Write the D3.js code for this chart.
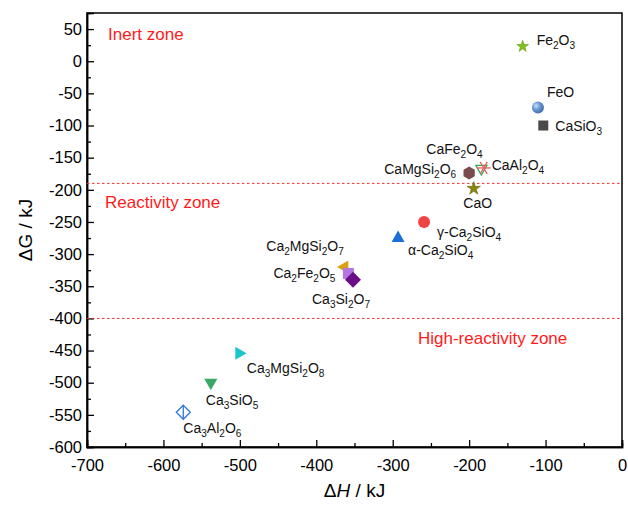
<!DOCTYPE html>
<html>
<head>
<meta charset="utf-8">
<script src="https://cdn.jsdelivr.net/npm/d3@7"></script>
<style>
  html, body { margin: 0; padding: 0; background: #fff; }
  text { font-family: "Liberation Sans", Arial, sans-serif; }
</style>
</head>
<body>
<svg id="chart" width="628" height="509"></svg>
<script>
// Compounds: name (with _n subscripts), ΔH (kJ), ΔG (kJ)
const names = ["Fe_2O_3", "FeO", "CaSiO_3", "CaFe_2O_4", "CaAl_2O_4", "CaMgSi_2O_6", "CaO",
  "γ-Ca_2SiO_4", "α-Ca_2SiO_4", "Ca_2MgSi_2O_7", "Ca_2Fe_2O_5", "Ca_3Si_2O_7",
  "Ca_3MgSi_2O_8", "Ca_3SiO_5", "Ca_3Al_2O_6"];
const dH = [-130, -110, -103, -184, -181, -200, -194, -259, -293, -364, -358, -352, -500, -538, -574];
const dG = [23, -72, -100, -168, -166, -174, -198, -250, -274, -320, -330, -340, -454, -501, -546];

// Zone boundaries and captions
const boundaries = [-190, -400];
const zoneNames = ["Inert zone", "Reactivity zone", "High-reactivity zone"];

const xTicks = [-700, -600, -500, -400, -300, -200, -100, 0];
const yTicks = [50, 0, -50, -100, -150, -200, -250, -300, -350, -400, -450, -500, -550, -600];

// Marker style per compound
const markerStyle = [
  { shape: "star", fill: "#7cc31a", stroke: "#5f9a10", size: 42 },
  { shape: "sphere", fill: "#5b8fd2", size: 6 },
  { shape: "square", fill: "#4a4a4a", size: 10 },
  { shape: "triDownOpen", stroke: "#2ea85a", size: 11 },
  { shape: "asterisk", stroke: "#f05a5a", size: 7 },
  { shape: "hexagon", fill: "#7a4d4d", size: 6.5 },
  { shape: "star", fill: "#8a8612", stroke: "#6e6a0c", size: 55 },
  { shape: "circle", fill: "#f04343", size: 6 },
  { shape: "triUp", fill: "#1d6fd8", size: 13 },
  { shape: "triLeft", fill: "#d9a10e", size: 13 },
  { shape: "square", fill: "#b476e0", size: 11 },
  { shape: "diamond", fill: "#6b0d86", size: 8 },
  { shape: "triRight", fill: "#1cc6cc", size: 13 },
  { shape: "triDown", fill: "#37a866", size: 13 },
  { shape: "diamondOpen", stroke: "#2f78e0", size: 7 }
];

// Label placement relative to each marker (px) and anchor
const labelPos = [
  { dx: 14, dy: -1, a: "start" }, { dx: 9, dy: -11, a: "start" }, { dx: 12, dy: 5, a: "start" },
  { dx: -55, dy: -15, a: "start" }, { dx: 8, dy: 2, a: "start" }, { dx: -13, dy: 1, a: "end" },
  { dx: 4, dy: 19, a: "middle" }, { dx: 13, dy: 15, a: "start" }, { dx: 10, dy: 18, a: "start" },
  { dx: 0, dy: -16, a: "end" }, { dx: -13, dy: 5, a: "end" }, { dx: -41, dy: 24, a: "start" },
  { dx: 7, dy: 20, a: "start" }, { dx: -5, dy: 22, a: "start" }, { dx: 0, dy: 21, a: "start" }
];

const svg = d3.select("#chart");
const margin = { left: 87, right: 6, top: 13, bottom: 62 };
const W = 628, H = 509;
const iw = W - margin.left - margin.right, ih = H - margin.top - margin.bottom;

const x = d3.scaleLinear().domain([-700, 0]).range([0, iw]);
const y = d3.scaleLinear().domain([-600, 75]).range([ih, 0]);

const defs = svg.append("defs");
const grad = defs.append("radialGradient").attr("id", "sphere")
  .attr("cx", "35%").attr("cy", "35%").attr("r", "70%");
grad.append("stop").attr("offset", "0%").attr("stop-color", "#cfe0f5");
grad.append("stop").attr("offset", "45%").attr("stop-color", "#6d9bd6");
grad.append("stop").attr("offset", "100%").attr("stop-color", "#3d6aa8");

const g = svg.append("g").attr("transform", `translate(${margin.left},${margin.top})`);

// Frame
g.append("rect").attr("x", 0).attr("y", 0).attr("width", iw).attr("height", ih)
  .attr("fill", "none").attr("stroke", "#000").attr("stroke-width", 1.5);

// Axes with inward ticks; labels use a plain hyphen for negatives
const fmt = d => String(d);
const xAxis = g.append("g").attr("transform", `translate(0,${ih})`)
  .call(d3.axisBottom(x).tickValues(xTicks).tickSize(-7).tickPadding(12).tickFormat(fmt));
const xMinor = g.append("g").attr("transform", `translate(0,${ih})`)
  .call(d3.axisBottom(x).tickValues(d3.range(-650, 0, 100)).tickSize(-4).tickFormat(""));
const yAxis = g.append("g")
  .call(d3.axisLeft(y).tickValues(yTicks).tickSize(-7).tickPadding(5).tickFormat(fmt));
const yMinor = g.append("g")
  .call(d3.axisLeft(y).tickValues(d3.range(-575, 75, 50)).tickSize(-4).tickFormat(""));

[xAxis, xMinor, yAxis, yMinor].forEach(a => {
  a.select(".domain").attr("stroke-width", 1.5);
  a.selectAll(".tick line").attr("stroke-width", 1.3);
  a.selectAll("text").attr("font-size", 16.5).attr("fill", "#000")
    .attr("font-family", "Liberation Sans, Arial, sans-serif");
});

// Zone boundaries
g.selectAll("line.bound").data(boundaries).enter().append("line")
  .attr("x1", 0).attr("x2", iw).attr("y1", d => y(d)).attr("y2", d => y(d))
  .attr("stroke", "#f03030").attr("stroke-width", 1).attr("stroke-dasharray", "2.5,2.5");

const zonePos = [{ x: 21, y: 27 }, { x: 18, y: 195 }, { x: 331, y: 331 }];
g.selectAll("text.zone").data(zoneNames).enter().append("text")
  .attr("x", (d, i) => zonePos[i].x).attr("y", (d, i) => zonePos[i].y)
  .attr("font-size", 17).attr("fill", "#ff1a1a").text(d => d);

// Marker drawing
function drawMarker(sel, s) {
  const k = s.size;
  switch (s.shape) {
    case "star":
      sel.append("path").attr("d", d3.symbol(d3.symbolStar, s.size)())
        .attr("fill", s.fill).attr("stroke", s.stroke).attr("stroke-width", 0.6);
      break;
    case "sphere":
      sel.append("circle").attr("r", k).attr("fill", "url(#sphere)");
      break;
    case "circle":
      sel.append("circle").attr("r", k).attr("fill", s.fill);
      break;
    case "square":
      sel.append("rect").attr("x", -k / 2).attr("y", -k / 2).attr("width", k).attr("height", k)
        .attr("fill", s.fill);
      break;
    case "hexagon": {
      const pts = d3.range(6).map(i => {
        const a = Math.PI / 6 + i * Math.PI / 3;
        return [k * Math.cos(a), k * Math.sin(a)];
      });
      sel.append("path").attr("d", "M" + pts.join("L") + "Z").attr("fill", s.fill);
      break;
    }
    case "diamond":
      sel.append("path").attr("d", `M0,${-k}L${k},0L0,${k}L${-k},0Z`).attr("fill", s.fill);
      break;
    case "diamondOpen":
      sel.append("path").attr("d", `M0,${-k}L${k},0L0,${k}L${-k},0Z`)
        .attr("fill", "none").attr("stroke", s.stroke).attr("stroke-width", 1.3);
      sel.append("line").attr("x1", 0).attr("x2", 0).attr("y1", -k).attr("y2", k)
        .attr("stroke", s.stroke).attr("stroke-width", 1.3);
      break;
    case "asterisk":
      [0, 60, 120].forEach(a => {
        const r = a * Math.PI / 180;
        sel.append("line").attr("x1", -k * Math.cos(r)).attr("y1", -k * Math.sin(r))
          .attr("x2", k * Math.cos(r)).attr("y2", k * Math.sin(r))
          .attr("stroke", s.stroke).attr("stroke-width", 1.3);
      });
      break;
    default: {
      // triangles: equilateral, pointing in the named direction
      const h = k * 0.87, rot = { triUp: 0, triRight: 90, triDown: 180, triDownOpen: 180, triLeft: 270 }[s.shape];
      const p = `M0,${-h * 0.6}L${k / 2},${h * 0.4}L${-k / 2},${h * 0.4}Z`;
      const t = sel.append("path").attr("d", p).attr("transform", `rotate(${rot})`);
      if (s.shape === "triDownOpen") t.attr("fill", "none").attr("stroke", s.stroke).attr("stroke-width", 1.3);
      else t.attr("fill", s.fill);
    }
  }
}

const pts = names.map((n, i) => ({ n, h: dH[i], gv: dG[i], s: markerStyle[i], l: labelPos[i] }));
pts.forEach(p => {
  const m = g.append("g").attr("transform", `translate(${x(p.h)},${y(p.gv)})`);
  drawMarker(m, p.s);
});

// Labels with subscripts
function addFormula(textSel, str) {
  const parts = str.split(/(_\d)/).filter(s => s.length);
  let sub = false;
  parts.forEach(part => {
    if (part.startsWith("_")) {
      textSel.append("tspan").attr("font-size", "72%").attr("dy", 4).text(part.slice(1));
      sub = true;
    } else {
      const t = textSel.append("tspan").text(part);
      if (sub) { t.attr("dy", -4); sub = false; }
    }
  });
}
pts.forEach(p => {
  const t = g.append("text")
    .attr("x", x(p.h) + p.l.dx).attr("y", y(p.gv) + p.l.dy)
    .attr("text-anchor", p.l.a).attr("font-size", 14).attr("fill", "#111");
  addFormula(t, p.n);
});

// Axis titles
const xt = svg.append("text").attr("x", margin.left + iw / 2).attr("y", 497)
  .attr("text-anchor", "middle").attr("font-size", 19);
xt.append("tspan").text("Δ");
xt.append("tspan").attr("font-style", "italic").text("H");
xt.append("tspan").text(" / kJ");

svg.append("text").attr("transform", `translate(32,${margin.top + ih / 2}) rotate(-90)`)
  .attr("text-anchor", "middle").attr("font-size", 19).text("ΔG / kJ");
</script>
</body>
</html>
